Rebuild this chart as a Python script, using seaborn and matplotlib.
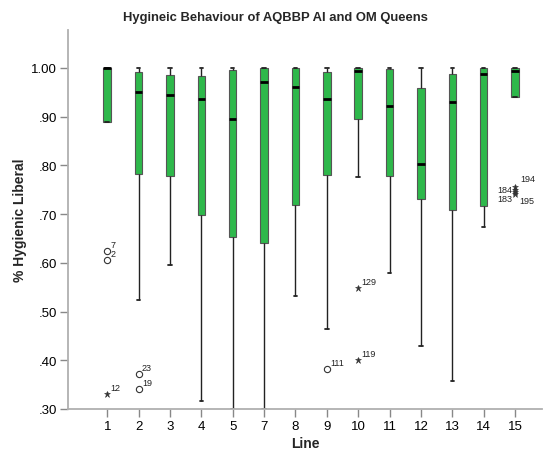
import matplotlib as mpl
mpl.use('Agg')
import matplotlib.pyplot as plt
import matplotlib.ticker as mticker
import numpy as np
import pandas as pd
import seaborn as sns

sns.set_style('white')
plt.rcParams['font.family'] = ['Liberation Sans', 'DejaVu Sans']

# Line categories (no line 6 in the data)
lines = ['1', '2', '3', '4', '5', '7', '8', '9', '10', '11', '12', '13', '14', '15']

# Box summary
whisker_low = [0.890, 0.523, 0.595, 0.317, 0.300, 0.300, 0.532, 0.465, 0.776, 0.580, 0.429, 0.358, 0.674, 0.940]
q1 = [0.890, 0.782, 0.779, 0.698, 0.654, 0.641, 0.719, 0.781, 0.895, 0.779, 0.732, 0.709, 0.716, 0.940]
median = [1.000, 0.950, 0.945, 0.936, 0.895, 0.971, 0.962, 0.936, 0.994, 0.921, 0.803, 0.931, 0.988, 0.994]
q3 = [1.000, 0.992, 0.986, 0.983, 0.995, 1.000, 1.000, 0.992, 1.000, 0.998, 0.958, 0.988, 1.000, 1.000]
whisker_high = [1.000, 1.000, 1.000, 1.000, 1.000, 1.000, 1.000, 1.000, 1.000, 1.000, 1.000, 1.000, 1.000, 1.000]

# Outliers: circles (mild) and stars (extreme)
out_line = ['1', '1', '1', '2', '2', '9', '10', '10', '15', '15', '15', '15']
out_value = [0.625, 0.605, 0.331, 0.371, 0.341, 0.382, 0.548, 0.401, 0.755, 0.750, 0.745, 0.741]
out_case = ['7', '2', '12', '23', '19', '111', '129', '119', '194', '184', '183', '195']
out_kind = ['o', 'o', '*', 'o', 'o', 'o', '*', '*', '*', '*', '*', '*']

rows = []
for i, ln in enumerate(lines):
    for v in (whisker_low[i], q1[i], median[i], q3[i], whisker_high[i]):
        rows.append({'Line': ln, 'Hyg': v})
df = pd.DataFrame(rows)

fig = plt.figure(figsize=(5.44, 4.52), dpi=100)
ax = fig.add_axes([68 / 544, 42 / 452, 474 / 544, 379 / 452])

grey = '#b0b0b0'
cap_lw = 1.3
sns.boxplot(data=df, x='Line', y='Hyg', order=lines, whis=(0, 100), width=0.24,
            color='#2eb84b', saturation=1, linecolor='#555555', linewidth=0.8,
            medianprops=dict(color='black', linewidth=2),
            whiskerprops=dict(color='#222222', linewidth=1),
            capprops=dict(color='#222222', linewidth=cap_lw),
            showfliers=False, ax=ax)

# narrower whisker caps, like SPSS
for ln2d in ax.lines:
    if ln2d.get_linewidth() == cap_lw:
        xd = np.asarray(ln2d.get_xdata(), dtype=float)
        c = xd.mean()
        ln2d.set_xdata([c - 0.055, c + 0.055])

xpos = {ln: i for i, ln in enumerate(lines)}
for ln, v, case, kind in zip(out_line, out_value, out_case, out_kind):
    x = xpos[ln]
    if kind == 'o':
        ax.plot(x, v, marker='o', ms=4.5, mfc='none', mec='#333333', mew=0.8, zorder=5)
    else:
        ax.plot(x, v, marker='*', ms=4.5, color='#333333', mew=0.4, zorder=5)
    if ln == '15':
        offs = {'194': (4, 3, 'left', 'bottom'), '184': (-2, 0.5, 'right', 'center'),
                '183': (-2, -1.5, 'right', 'top'), '195': (3, -1, 'left', 'top')}[case]
        ax.annotate(case, (x, v), xytext=offs[:2], textcoords='offset points',
                    ha=offs[2], va=offs[3], fontsize=6.5, color='#222222')
    else:
        ax.annotate(case, (x, v), xytext=(2.5, 1.5), textcoords='offset points',
                    ha='left', va='bottom', fontsize=6.5, color='#222222')

ax.set_xlim(-1.25, 13.86)
ax.set_ylim(0.30, 1.078)
ax.set_yticks(np.arange(0.30, 1.001, 0.10))
ax.yaxis.set_major_formatter(mticker.FuncFormatter(lambda v, p: f'{v:.2f}'.lstrip('0') if v < 1 else f'{v:.2f}'))

for s in ['top', 'right']:
    ax.spines[s].set_visible(False)
for s in ['left', 'bottom']:
    ax.spines[s].set_color(grey)
    ax.spines[s].set_linewidth(1.3)
ax.tick_params(axis='both', direction='out', length=6, width=1, color='#888888',
               labelsize=9.5, labelcolor='black', pad=2, left=True, bottom=True)

ax.set_xlabel('Line', fontsize=10, fontweight='bold', labelpad=3)
ax.set_ylabel('% Hygienic Liberal', fontsize=10, fontweight='bold', labelpad=3)
fig.text(275 / 544, 1 - 18 / 452, 'Hygineic Behaviour of AQBBP AI and OM Queens',
         ha='center', va='center', fontsize=9.4, fontweight='bold')

fig.savefig('out.png', dpi=100)
